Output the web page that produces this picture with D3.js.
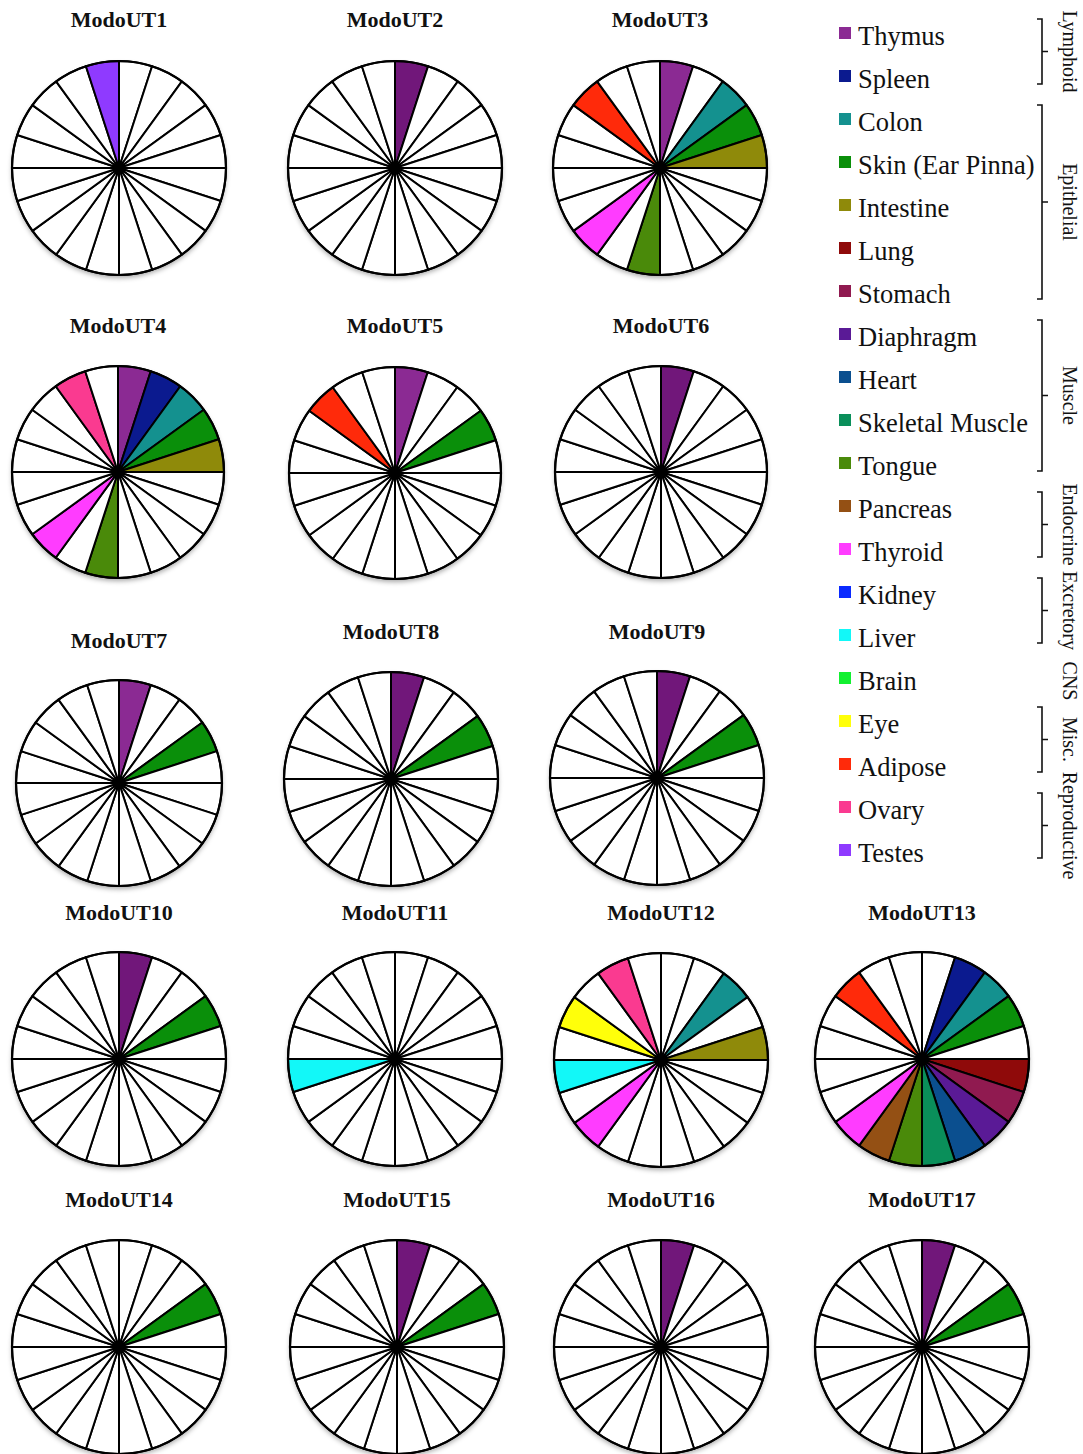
<!DOCTYPE html>
<html>
<head>
<meta charset="utf-8">
<script src="https://cdn.jsdelivr.net/npm/d3@7"></script>
<style>
  body { margin: 0; background: #fff; }
  svg { display: block; }
  text { font-family: "Liberation Serif", "Times New Roman", serif; fill: #111; }
</style>
</head>
<body>
<div id="chart"></div>
<script>
// tissues in slice order (clockwise from 12 o'clock) and legend order
const tissues = ["Thymus", "Spleen", "Colon", "Skin (Ear Pinna)", "Intestine", "Lung", "Stomach",
  "Diaphragm", "Heart", "Skeletal Muscle", "Tongue", "Pancreas", "Thyroid", "Kidney", "Liver",
  "Brain", "Eye", "Adipose", "Ovary", "Testes"];

const tissueColors = ["#8b2a93", "#0b1a8f", "#14918f", "#0a8f0a", "#8f8a0a", "#8f0a0a", "#901a50",
  "#5a1a96", "#0b4f8f", "#0a8f5a", "#4a8a0a", "#945014", "#ff3cff", "#0a2aff", "#12f8f8",
  "#12f030", "#ffff0a", "#ff2a0a", "#fa3a90", "#8f3aff"];

const groupNames = ["Lymphoid", "Epithelial", "Muscle", "Endocrine", "Excretory", "CNS", "Misc.", "Reproductive"];
const groupFirst = ["Thymus", "Colon", "Diaphragm", "Pancreas", "Kidney", "Brain", "Eye", "Ovary"];
const groupLast  = ["Spleen", "Stomach", "Tongue", "Thyroid", "Liver", "Brain", "Adipose", "Testes"];

const charts = ["ModoUT1", "ModoUT2", "ModoUT3", "ModoUT4", "ModoUT5", "ModoUT6", "ModoUT7", "ModoUT8",
  "ModoUT9", "ModoUT10", "ModoUT11", "ModoUT12", "ModoUT13", "ModoUT14", "ModoUT15", "ModoUT16", "ModoUT17"];

const expressed = [
  ["Testes"],
  ["Thymus"],
  ["Thymus", "Colon", "Skin (Ear Pinna)", "Intestine", "Tongue", "Thyroid", "Adipose"],
  ["Thymus", "Spleen", "Colon", "Skin (Ear Pinna)", "Intestine", "Tongue", "Thyroid", "Ovary"],
  ["Thymus", "Skin (Ear Pinna)", "Adipose"],
  ["Thymus"],
  ["Thymus", "Skin (Ear Pinna)"],
  ["Thymus", "Skin (Ear Pinna)"],
  ["Thymus", "Skin (Ear Pinna)"],
  ["Thymus", "Skin (Ear Pinna)"],
  ["Liver"],
  ["Colon", "Intestine", "Thyroid", "Liver", "Eye", "Ovary"],
  ["Spleen", "Colon", "Skin (Ear Pinna)", "Lung", "Stomach", "Diaphragm", "Heart", "Skeletal Muscle",
   "Tongue", "Pancreas", "Thyroid", "Adipose"],
  ["Skin (Ear Pinna)"],
  ["Thymus", "Skin (Ear Pinna)"],
  ["Thymus"],
  ["Thymus", "Skin (Ear Pinna)"]
];

// charts where the thymus slice is printed in the darker shade
const darkThymus = ["ModoUT2", "ModoUT6", "ModoUT8", "ModoUT9", "ModoUT10", "ModoUT15", "ModoUT16", "ModoUT17"];
const darkThymusColor = "#71177a";

// placement of each pie on the page
const slots = [
  { x: 119, y: 168, r: 107, ty: 27 }, { x: 395, y: 168, r: 107, ty: 27 }, { x: 660, y: 168, r: 107, ty: 27 },
  { x: 118, y: 472, r: 106, ty: 333 }, { x: 395, y: 473, r: 106, ty: 333 }, { x: 661, y: 472, r: 106, ty: 333 },
  { x: 119, y: 783, r: 103, ty: 648 }, { x: 391, y: 779, r: 107, ty: 639 }, { x: 657, y: 778, r: 107, ty: 639 },
  { x: 119, y: 1059, r: 107, ty: 920 }, { x: 395, y: 1059, r: 107, ty: 920 }, { x: 661, y: 1060, r: 107, ty: 920 },
  { x: 922, y: 1059, r: 107, ty: 920 },
  { x: 119, y: 1347, r: 107, ty: 1207 }, { x: 397, y: 1347, r: 107, ty: 1207 }, { x: 661, y: 1347, r: 107, ty: 1207 },
  { x: 922, y: 1347, r: 107, ty: 1207 }
];

const width = 1083, height = 1454;

const svg = d3.select("#chart").append("svg")
  .attr("width", width)
  .attr("height", height);

const defs = svg.append("defs");
const shadow = defs.append("filter").attr("id", "shadow")
  .attr("x", "-10%").attr("y", "-10%").attr("width", "120%").attr("height", "125%");
shadow.append("feDropShadow")
  .attr("dx", 0).attr("dy", 3).attr("stdDeviation", 2.5)
  .attr("flood-color", "#000").attr("flood-opacity", 0.35);

const color = d3.scaleOrdinal().domain(tissues).range(tissueColors);

const pie = d3.pie().value(1).sort(null);
const slices = pie(tissues);

charts.forEach((name, i) => {
  const s = slots[i];
  const on = new Set(expressed[i]);
  const arc = d3.arc().innerRadius(0).outerRadius(s.r);

  const g = svg.append("g")
    .attr("class", "pie")
    .attr("transform", "translate(" + s.x + "," + s.y + ")");

  g.append("circle")
    .attr("r", s.r)
    .attr("fill", "#fff")
    .attr("filter", "url(#shadow)");

  g.selectAll("path")
    .data(slices)
    .enter()
    .append("path")
    .attr("d", arc)
    .attr("fill", (d) => {
      if (!on.has(d.data)) return "#fff";
      if (d.data === "Thymus" && darkThymus.includes(name)) return darkThymusColor;
      return color(d.data);
    })
    .attr("stroke", "#000")
    .attr("stroke-width", 2)
    .attr("stroke-linejoin", "round");

  g.append("circle")
    .attr("r", s.r)
    .attr("fill", "none")
    .attr("stroke", "#000")
    .attr("stroke-width", 2.2);

  g.append("circle")
    .attr("r", 5)
    .attr("fill", "#000");

  svg.append("text")
    .attr("x", s.x)
    .attr("y", s.ty)
    .attr("text-anchor", "middle")
    .attr("font-weight", "bold")
    .attr("font-size", 22)
    .text(name);
});

// legend
const legendY = d3.scaleLinear().domain([0, tissues.length - 1]).range([45, 862]);

const legend = svg.append("g").attr("class", "legend");
const item = legend.selectAll("g")
  .data(tissues)
  .enter()
  .append("g")
  .attr("transform", (d, i) => "translate(0," + legendY(i) + ")");

item.append("rect")
  .attr("x", 839)
  .attr("y", -18)
  .attr("width", 12)
  .attr("height", 12)
  .attr("fill", (d) => color(d));

item.append("text")
  .attr("x", 858)
  .attr("y", 0)
  .attr("font-size", 26.5)
  .text((d) => d);

// group brackets and labels
const bx = 1042;
groupNames.forEach((gName, i) => {
  const a = tissues.indexOf(groupFirst[i]);
  const b = tissues.indexOf(groupLast[i]);
  const top = legendY(a) - 26;
  const bottom = legendY(b) - 4;
  const mid = (top + bottom) / 2;

  if (a !== b) {
    legend.append("path")
      .attr("d", "M" + (bx - 5) + "," + top + "H" + bx + "V" + bottom + "H" + (bx - 5) +
        "M" + bx + "," + mid + "H" + (bx + 6))
      .attr("fill", "none")
      .attr("stroke", "#111")
      .attr("stroke-width", 1.6);
  }

  const labelMid = a === b ? legendY(a) - 9 : mid;
  legend.append("text")
    .attr("transform", "translate(1063," + labelMid + ") rotate(90)")
    .attr("text-anchor", "middle")
    .attr("font-size", 20)
    .text(gName);
});
</script>
</body>
</html>
